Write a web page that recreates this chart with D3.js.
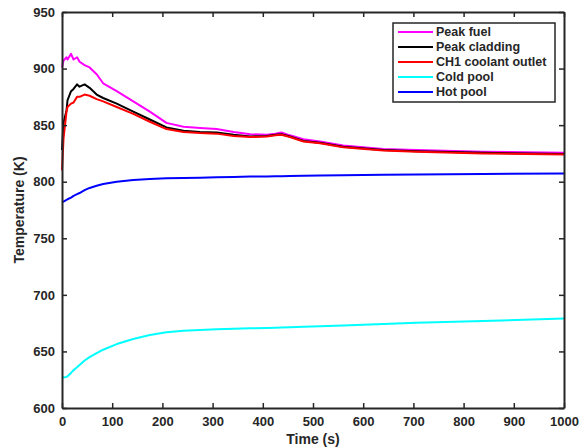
<!DOCTYPE html>
<html>
<head>
<meta charset="utf-8">
<script src="https://cdn.jsdelivr.net/npm/d3@7"></script>
<style>
  body { margin: 0; background: #fff; }
  svg text { font-family: Arial, "Liberation Sans", sans-serif; font-weight: bold; fill: #262626; }
</style>
</head>
<body>
<div id="chart"></div>
<script>
// time grid (s) shared by all series
const times = [0, 3, 9, 11, 18, 23, 30, 35, 45, 55, 69, 82, 109, 142, 175, 208, 242, 275, 308, 342, 375, 408, 425, 437, 454, 481, 514, 560, 640, 706, 839, 1000];

const peakFuel = [901, 907, 910, 908, 913, 908, 910, 906, 903, 901, 895, 887, 880, 871, 862, 852, 848.5, 847.5, 846.5, 844, 842, 841.5, 842.5, 843.5, 841, 837.5, 835.5, 832, 829, 828, 826.5, 825.5];
const peakCladding = [828, 852, 863, 872, 880, 882, 886, 884, 886, 883, 877, 874, 869, 862, 855, 848, 845, 844, 843.5, 841.5, 840, 840.5, 841.5, 842, 840, 836, 834.5, 831, 828, 827, 825.5, 824.5];
const coolantOutlet = [810, 838, 862, 866, 869, 870, 875, 875, 877, 876, 873, 871, 866, 860, 853, 846.5, 844, 843, 842.5, 840.5, 839.5, 840, 841, 841.5, 839.5, 835.5, 834, 830.5, 827.5, 826.5, 825, 824];
const coldPool = [627.5, 627, 627.5, 628, 631, 633.5, 636, 638, 642, 645, 648.5, 651.5, 656.5, 661, 664.5, 667, 668.3, 669, 669.6, 670, 670.4, 670.8, 671, 671.2, 671.4, 671.8, 672.3, 673, 674.3, 675.3, 677, 679];
const hotPool = [782, 782.5, 784, 784.5, 786, 787.5, 789, 790, 792.5, 794.5, 796.5, 798, 800, 801.5, 802.5, 803, 803.3, 803.6, 803.9, 804.2, 804.5, 804.7, 804.8, 804.9, 805, 805.2, 805.4, 805.7, 806.1, 806.4, 806.9, 807.3];

const seriesNames = ['Peak fuel', 'Peak cladding', 'CH1 coolant outlet', 'Cold pool', 'Hot pool'];
const seriesColors = ['#ff00ff', '#000000', '#ff0000', '#00ffff', '#0000ff'];
const seriesValues = [peakFuel, peakCladding, coolantOutlet, coldPool, hotPool];

const xTicks = [0, 100, 200, 300, 400, 500, 600, 700, 800, 900, 1000];
const yTicks = [600, 650, 700, 750, 800, 850, 900, 950];

const width = 588, height = 448;
const margin = { top: 12, right: 24, bottom: 40, left: 62 };
const axisColor = '#262626';

const svg = d3.select('#chart').append('svg')
    .attr('width', width)
    .attr('height', height);

const x = d3.scaleLinear().domain([0, 1000]).range([margin.left, width - margin.right]);
const y = d3.scaleLinear().domain([600, 950]).range([height - margin.bottom, margin.top]);

// lines
const line = d3.line()
    .x((d, i) => x(times[i]))
    .y(d => y(d));

seriesValues.forEach((vals, k) => {
    svg.append('path')
        .datum(vals)
        .attr('fill', 'none')
        .attr('stroke', seriesColors[k])
        .attr('stroke-width', 2)
        .attr('stroke-linejoin', 'round')
        .attr('d', line);
});

// axes, MATLAB style: box with inward ticks
const tickLen = 5;
const gx = svg.append('g')
    .attr('transform', `translate(0,${y(600)})`)
    .call(d3.axisBottom(x).tickValues(xTicks).tickFormat(d3.format('d')).tickSizeInner(-tickLen).tickSizeOuter(0).tickPadding(9));
const gy = svg.append('g')
    .attr('transform', `translate(${x(0)},0)`)
    .call(d3.axisLeft(y).tickValues(yTicks).tickFormat(d3.format('d')).tickSizeInner(-tickLen).tickSizeOuter(0).tickPadding(7));
const gxTop = svg.append('g')
    .attr('transform', `translate(0,${y(950)})`)
    .call(d3.axisTop(x).tickValues(xTicks).tickSizeInner(-tickLen).tickSizeOuter(0).tickFormat(''));
const gyRight = svg.append('g')
    .attr('transform', `translate(${x(1000)},0)`)
    .call(d3.axisRight(y).tickValues(yTicks).tickSizeInner(-tickLen).tickSizeOuter(0).tickFormat(''));

[gx, gy, gxTop, gyRight].forEach(g => {
    g.selectAll('path').attr('stroke', axisColor).attr('stroke-width', 2);
    g.selectAll('line').attr('stroke', axisColor).attr('stroke-width', 1.5);
    g.selectAll('text').attr('font-size', 13).attr('font-family', null).attr('fill', axisColor);
});

// axis titles
svg.append('text')
    .attr('x', (x(0) + x(1000)) / 2)
    .attr('y', 444)
    .attr('text-anchor', 'middle')
    .attr('font-size', 14)
    .text('Time (s)');

svg.append('text')
    .attr('transform', `translate(24,${(y(600) + y(950)) / 2}) rotate(-90)`)
    .attr('text-anchor', 'middle')
    .attr('font-size', 14)
    .text('Temperature (K)');

// legend
const legend = svg.append('g').attr('transform', 'translate(393,23)');
legend.append('rect')
    .attr('width', 162)
    .attr('height', 79)
    .attr('fill', '#fff')
    .attr('stroke', axisColor)
    .attr('stroke-width', 1.5);

seriesNames.forEach((name, k) => {
    const row = legend.append('g').attr('transform', `translate(0,${9 + k * 15})`);
    row.append('line')
        .attr('x1', 5).attr('x2', 40)
        .attr('stroke', seriesColors[k])
        .attr('stroke-width', 2);
    row.append('text')
        .attr('x', 43)
        .attr('dy', '0.35em')
        .attr('font-size', 12.5)
        .text(name);
});
</script>
</body>
</html>
